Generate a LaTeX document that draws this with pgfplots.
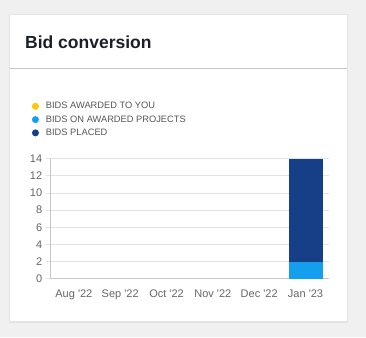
\documentclass[border=0pt]{standalone}
\usepackage{pgfplots}
\pgfplotsset{compat=1.18}
\usepackage{fontspec}
\setmainfont{Liberation Sans}
\definecolor{bg}{HTML}{F0F0F0}
\definecolor{shadow}{HTML}{E4E4E4}
\definecolor{divider}{HTML}{C4C4C4}
\definecolor{titlec}{HTML}{1B1F2A}
\definecolor{legc}{HTML}{555555}
\definecolor{tickc}{HTML}{666666}
\definecolor{gridc}{HTML}{E3E3E3}
\definecolor{axisc}{HTML}{C8C8C8}
\definecolor{yel}{HTML}{FFC800}
\definecolor{lblue}{HTML}{149FEE}
\definecolor{navy}{HTML}{173F87}
\begin{document}
\begin{tikzpicture}[x=1pt,y=1pt]
\fill[bg] (0,0) rectangle (366,337);
\fill[shadow] (9,14.5) rectangle (348,322.5);
\fill[white] (10,16) rectangle (347,322);
\draw[divider, line width=1pt] (10,268) -- (347,268);
\node[anchor=base west, inner sep=0pt, text=titlec, font=\bfseries\fontsize{17.5}{20}\selectfont] at (25,288) {Bid conversion};
\begin{axis}[
  at={(50.7pt,58.3pt)}, anchor=south west,
  scale only axis, width=278pt, height=120pt,
  ybar stacked, bar width=34pt,
  xmin=-0.5, xmax=5.5, ymin=0, ymax=14,
  ytick={0,2,...,14},
  xtick={0,1,2,3,4,5},
  xticklabels={Aug \textquotesingle22,Sep \textquotesingle22,Oct \textquotesingle22,Nov \textquotesingle22,Dec \textquotesingle22,Jan \textquotesingle23},
  ymajorgrids, grid style={color=gridc, line width=0.8pt},
  axis x line*=bottom, axis y line*=left,
  axis line style={color=axisc, line width=0.8pt, -},
  tick align=outside, major tick length=5pt,
  ytick style={color=gridc, line width=0.8pt},
  xtick style={draw=none},
  tick label style={text=tickc, font=\fontsize{11}{12}\selectfont},
  /pgf/number format/assume math mode=true,
  xticklabel style={yshift=-3pt},
  legend style={at={(-0.079,1.505)}, anchor=north west, draw=none, fill=none,
    font=\fontsize{9.3}{11}\selectfont, text=legc, row sep=1.3pt,
    /tikz/every odd column/.append style={column sep=5pt}},
  legend cell align=left,
  legend image code/.code={\fill (3pt,0pt) circle (3.5pt);},
]
\addplot[fill=yel, draw=none] coordinates {(0,0) (1,0) (2,0) (3,0) (4,0) (5,0)};
\addplot[fill=lblue, draw=none] coordinates {(0,0) (1,0) (2,0) (3,0) (4,0) (5,2)};
\addplot[fill=navy, draw=none] coordinates {(0,0) (1,0) (2,0) (3,0) (4,0) (5,12)};
\legend{BIDS AWARDED TO YOU, BIDS ON AWARDED PROJECTS, BIDS PLACED}
\end{axis}
\end{tikzpicture}
\end{document}
